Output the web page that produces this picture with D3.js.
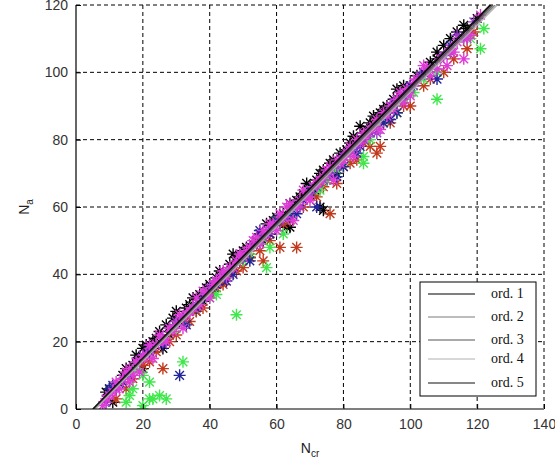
<!DOCTYPE html>
<html>
<head>
<meta charset="utf-8">
<script src="https://cdn.jsdelivr.net/npm/d3@7"></script>
<style>
  body { margin: 0; background: #fff; }
  svg { display: block; }
</style>
</head>
<body>
<svg id="chart"></svg>
<script>
// tick values
const xTicks = [0, 20, 40, 60, 80, 100, 120, 140];
const yTicks = [0, 20, 40, 60, 80, 100, 120];

// scatter series, [N_cr, N_a]
const blackPts = [[9,5],[10,6],[11,2],[12,7],[14,10],[15,12],[17,13],[18,16],[19,15],[20,18],[20,12],[21,19],[22,17],[23,20],[24,21],[25,23],[26,18],[27,25],[28,22],[29,27],[30,29],[31,26],[32,27],[33,30],[34,31],[35,33],[36,29],[37,34],[38,32],[39,36],[40,37],[41,35],[42,39],[43,41],[44,38],[45,40],[46,43],[47,46],[48,45],[49,44],[50,47],[51,48],[52,45],[53,49],[54,50],[55,52],[56,50],[57,55],[58,52],[59,56],[60,57],[61,55],[62,58],[63,54],[64,54],[64,61],[65,60],[66,62],[67,63],[68,64],[69,67],[70,66],[71,64],[72,68],[73,60],[74,59],[73,70],[74,71],[75,68],[76,73],[77,74],[78,70],[79,76],[80,75],[81,77],[82,79],[83,81],[84,80],[85,84],[86,82],[87,83],[88,85],[89,87],[90,86],[91,88],[92,89],[93,90],[95,92],[96,95],[97,93],[98,96],[100,96],[102,99],[104,100],[106,103],[108,104],[108,106],[110,108],[112,110],[114,112],[116,114],[117,113],[120,116]];
const greenPts = [[15,2],[16,4],[17,6],[20,0],[20,1],[22,3],[23,3],[25,4],[27,3],[22,8],[20,10],[18,12],[32,14],[30,24],[35,30],[42,34],[48,28],[40,33],[45,40],[50,44],[52,46],[55,50],[57,42],[58,48],[60,56],[62,52],[64,58],[66,60],[70,64],[73,65],[75,68],[78,71],[80,73],[82,76],[86,73],[86,75],[88,80],[90,84],[92,85],[95,90],[96,88],[98,92],[101,94],[104,98],[108,92],[108,100],[118,110],[121,107],[122,113]];
const redPts = [[12,3],[15,6],[17,9],[20,13],[22,14],[26,12],[24,17],[28,20],[30,22],[32,27],[34,26],[36,29],[38,30],[40,34],[42,36],[44,37],[46,40],[48,41],[50,42],[52,45],[55,47],[56,44],[58,50],[61,48],[62,55],[66,48],[64,56],[68,60],[70,63],[72,63],[74,66],[76,58],[78,67],[80,72],[82,73],[84,74],[86,79],[88,78],[90,76],[91,78],[94,85],[96,88],[98,90],[100,90],[104,96],[106,98],[110,100],[113,104],[117,107],[119,112]];
const magentaPts = [[8,1],[9,3],[10,4],[11,5],[12,8],[13,6],[14,9],[15,11],[16,8],[16,12],[17,10],[18,14],[19,11],[20,15],[21,16],[22,19],[23,15],[24,19],[25,22],[26,21],[27,20],[28,24],[29,23],[30,25],[31,28],[32,24],[33,28],[34,29],[35,30],[36,33],[37,31],[38,35],[39,34],[40,33],[41,37],[42,38],[43,39],[44,41],[45,39],[46,42],[47,42],[48,44],[49,46],[50,45],[51,47],[52,48],[53,50],[54,51],[55,49],[56,53],[57,52],[58,55],[59,55],[60,53],[61,58],[62,57],[63,60],[64,61],[65,56],[66,60],[67,62],[68,65],[69,63],[70,62],[71,66],[72,67],[73,68],[74,69],[75,71],[76,72],[77,68],[78,74],[79,73],[80,74],[81,76],[82,78],[83,75],[84,80],[85,79],[86,82],[87,81],[88,83],[89,84],[90,86],[91,83],[92,88],[93,87],[94,90],[95,89],[96,92],[97,94],[98,91],[99,95],[100,93],[101,97],[102,98],[104,102],[105,101],[106,99],[108,101],[109,104],[111,102],[112,107],[113,106],[114,109],[116,104],[117,110],[118,111],[121,117]];
const bluePts = [[10,6],[11,7],[14,8],[16,10],[22,17],[26,19],[31,10],[33,25],[36,30],[38,33],[42,37],[45,38],[47,40],[50,45],[52,44],[55,53],[58,52],[60,56],[64,57],[66,58],[68,62],[70,65],[72,60],[76,70],[78,69],[80,72],[84,76],[85,78],[88,82],[92,85],[94,86],[96,88],[98,93],[100,96],[104,100],[108,98],[112,108]];
const violetPts = [[9,2],[12,6],[14,9],[18,14],[20,16],[22,18],[24,19],[26,20],[28,24],[30,26],[32,27],[34,29],[36,31],[40,36],[42,38],[44,40],[46,42],[49,46],[52,48],[54,49],[56,51],[58,54],[61,56],[63,57],[65,60],[67,60],[70,64],[72,66],[74,68],[76,70],[78,72],[80,75],[82,77],[84,78],[86,80],[88,82],[90,82],[93,88],[95,91],[97,92],[99,94],[101,96],[103,99],[106,101],[110,105],[112,106],[114,111],[116,110],[119,115]];

// fitted lines: N_cr at N_a = 0 and N_cr at N_a = 120
const lineNames = ['ord. 1', 'ord. 2', 'ord. 3', 'ord. 4', 'ord. 5'];
const lineX0 = [5.2, 5.6, 5.4, 5.8, 5.0];
const lineX120 = [124.2, 125.4, 124.8, 126.0, 123.8];
const lineYs = [0, 120];

const width = 555, height = 460;
const margin = {top: 5, right: 11, bottom: 51, left: 76};
const innerW = width - margin.left - margin.right;
const innerH = height - margin.top - margin.bottom;

const svg = d3.select('#chart').attr('width', width).attr('height', height);
const g = svg.append('g').attr('transform', `translate(${margin.left},${margin.top})`);

const x = d3.scaleLinear().domain([0, 140]).range([0, innerW]);
const y = d3.scaleLinear().domain([0, 120]).range([innerH, 0]);

// grid
const grid = g.append('g').attr('class', 'grid')
  .attr('stroke', '#000').attr('stroke-width', 1).attr('stroke-dasharray', '4,3');
grid.selectAll('.gx').data(xTicks.slice(1)).enter().append('line')
  .attr('x1', d => x(d)).attr('x2', d => x(d)).attr('y1', 0).attr('y2', innerH);
grid.selectAll('.gy').data(yTicks.slice(1)).enter().append('line')
  .attr('y1', d => y(d)).attr('y2', d => y(d)).attr('x1', 0).attr('x2', innerW);

// asterisk marker ('*' = plus + cross)
const r = 6, d7 = r * 0.72;
const star = `M${-r},0L${r},0M0,${-r}L0,${r}M${-d7},${-d7}L${d7},${d7}M${-d7},${d7}L${d7},${-d7}`;

// draw order: black first so the coloured series mix over it
const series = [
  {pts: blackPts, color: '#000'},
  {pts: redPts, color: '#c23a1c'},
  {pts: greenPts, color: '#3fe84a'},
  {pts: bluePts, color: '#22259a'},
  {pts: violetPts, color: '#9a3ccc'},
  {pts: magentaPts, color: '#e03ad8'}
];

const clipId = 'plot-clip';
g.append('clipPath').attr('id', clipId).append('rect').attr('width', innerW).attr('height', innerH);

const marks = g.append('g').attr('clip-path', `url(#${clipId})`);
series.forEach(s => {
  marks.append('g')
    .selectAll('path')
    .data(s.pts)
    .enter()
    .append('path')
    .attr('d', star)
    .attr('transform', d => `translate(${x(d[0])},${y(d[1])})`)
    .attr('fill', 'none')
    .attr('stroke', s.color)
    .attr('stroke-width', 1.4);
});

const lineColors = ['#000', '#7a7a7a', '#555', '#b0b0b0', '#111'];
const lineGen = d3.line().x(d => x(d[0])).y(d => y(d[1]));
lineNames.forEach((n, i) => {
  marks.append('path')
    .datum([[lineX0[i], lineYs[0]], [lineX120[i], lineYs[1]]])
    .attr('d', lineGen)
    .attr('fill', 'none')
    .attr('stroke', lineColors[i])
    .attr('stroke-width', 1.1);
});

// axes box
const tickLen = 5;
g.append('line').attr('x1', 0).attr('x2', innerW).attr('y1', innerH).attr('y2', innerH)
  .attr('stroke', '#000').attr('stroke-width', 1.2);
g.append('line').attr('x1', 0).attr('x2', 0).attr('y1', 0).attr('y2', innerH)
  .attr('stroke', '#000').attr('stroke-width', 1.2);

const xAxis = g.append('g').attr('transform', `translate(0,${innerH})`)
  .call(d3.axisBottom(x).tickValues(xTicks).tickSizeInner(-tickLen).tickSizeOuter(0).tickPadding(10));
const yAxis = g.append('g')
  .call(d3.axisLeft(y).tickValues(yTicks).tickSizeInner(-tickLen).tickSizeOuter(0).tickPadding(8));
[xAxis, yAxis].forEach(a => {
  a.select('.domain').remove();
  a.selectAll('.tick line').attr('stroke', '#000');
  a.selectAll('.tick text')
    .attr('fill', '#333')
    .style('font-family', '"Liberation Sans", Arial, sans-serif')
    .style('font-size', '14px');
});

// axis labels
const labelFont = '"Liberation Sans", Arial, sans-serif';
const xl = svg.append('text')
  .attr('x', margin.left + innerW / 2)
  .attr('y', 453)
  .attr('text-anchor', 'middle')
  .attr('fill', '#222')
  .style('font-family', labelFont)
  .style('font-size', '14px');
xl.append('tspan').text('N');
xl.append('tspan').attr('dy', 4).style('font-size', '10px').text('cr');

const yl = svg.append('text')
  .attr('transform', `translate(29,${margin.top + innerH / 2}) rotate(-90)`)
  .attr('text-anchor', 'middle')
  .attr('fill', '#222')
  .style('font-family', labelFont)
  .style('font-size', '14px');
yl.append('tspan').text('N');
yl.append('tspan').attr('dy', 4).style('font-size', '10px').text('a');

// legend
const legend = svg.append('g').attr('transform', 'translate(420,282)');
legend.append('rect').attr('width', 116).attr('height', 114)
  .attr('fill', '#fff').attr('stroke', '#000').attr('stroke-width', 1);
const legendY = [12, 35, 58, 77, 101];
lineNames.forEach((n, i) => {
  legend.append('line')
    .attr('x1', 8).attr('x2', 55)
    .attr('y1', legendY[i]).attr('y2', legendY[i])
    .attr('stroke', lineColors[i]).attr('stroke-width', 1.2);
  legend.append('text')
    .attr('x', 71).attr('y', legendY[i] + 4)
    .attr('fill', '#111')
    .style('font-family', '"Liberation Serif", "Times New Roman", serif')
    .style('font-size', '14px')
    .text(n);
});
</script>
</body>
</html>
